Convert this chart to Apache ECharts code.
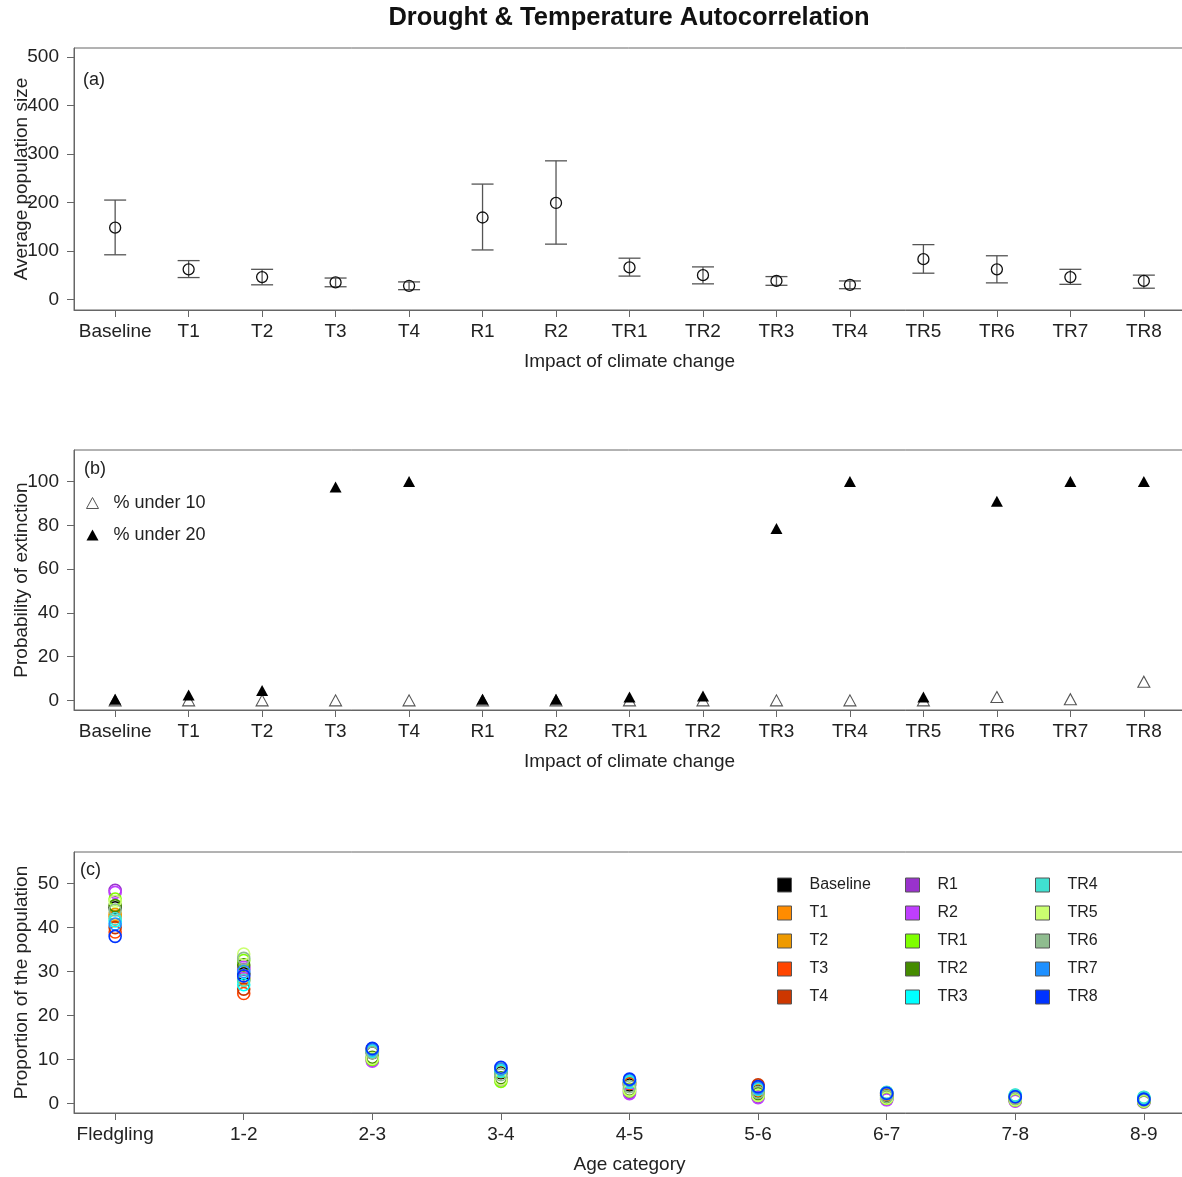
<!DOCTYPE html>
<html>
<head>
<meta charset="utf-8">
<title>Drought & Temperature Autocorrelation</title>
<script src="https://cdn.jsdelivr.net/npm/echarts@6/dist/echarts.min.js"></script>
<style>
  html, body { margin: 0; padding: 0; background: #fff; }
  #chart { width: 1182px; height: 1177px; }
</style>
</head>
<body>
<div id="chart"></div>
<script>
// scenarios on the x axis of panels (a) and (b)
var impactLabels = ['Baseline', 'T1', 'T2', 'T3', 'T4', 'R1', 'R2', 'TR1', 'TR2', 'TR3', 'TR4', 'TR5', 'TR6', 'TR7', 'TR8'];

// (a) average population size, mean and error bar ends
var popMean  = [148, 62, 46, 35, 28, 169, 199, 66, 50, 38, 30, 83, 62, 46, 38];
var popLower = [92, 45, 30, 26, 20, 102, 114, 48, 32, 29, 22, 54, 34, 31, 23];
var popUpper = [205, 80, 62, 44, 36, 238, 286, 85, 67, 47, 38, 113, 90, 62, 50];

// (b) probability of extinction (%)
var under10 = [0, 0, 0, 0, 0, 0, 0, 0, 0, 0, 0, 0, 1.5, 0.5, 8.5];
var under20 = [0.5, 2.5, 4.5, 97.5, 100, 0.5, 0.5, 1.5, 2, 78.5, 100, 1.5, 91, 100, 100];

// (c) proportion of the population per age category
var ageCategories = ['Fledgling', '1-2', '2-3', '3-4', '4-5', '5-6', '6-7', '7-8', '8-9'];
var propBaseline = [44.5, 29.5, 11.5, 7.0, 4.2, 2.8, 1.8, 1.2, 0.7];
var propT1  = [42.5, 28.5, 11.8, 7.2, 4.5, 3.0, 2.0, 1.3, 0.8];
var propT2  = [43.0, 28.0, 12.0, 7.4, 4.7, 3.2, 2.1, 1.4, 0.9];
var propT3  = [39.0, 25.0, 12.3, 7.5, 4.5, 3.8, 2.2, 1.5, 1.0];
var propT4  = [40.0, 26.0, 12.4, 7.8, 4.8, 4.2, 2.4, 1.6, 1.1];
var propR1  = [48.5, 30.5, 9.8, 5.5, 2.5, 1.5, 0.9, 0.6, 0.3];
var propR2  = [48.0, 31.0, 9.6, 5.3, 2.2, 1.3, 0.8, 0.5, 0.3];
var propTR1 = [46.5, 32.5, 10.0, 5.0, 2.8, 1.8, 1.1, 0.7, 0.4];
var propTR2 = [45.0, 31.5, 10.5, 5.8, 3.2, 2.2, 1.4, 0.9, 0.5];
var propTR3 = [41.5, 27.0, 11.8, 7.3, 4.8, 3.2, 2.4, 1.8, 1.3];
var propTR4 = [42.0, 28.0, 12.0, 7.5, 5.0, 3.3, 2.5, 1.9, 1.4];
var propTR5 = [46.0, 34.0, 10.2, 5.5, 3.0, 1.8, 1.2, 0.8, 0.5];
var propTR6 = [44.0, 33.0, 11.5, 6.5, 3.8, 2.5, 1.6, 1.1, 0.7];
var propTR7 = [40.8, 30.0, 12.2, 7.8, 5.3, 3.5, 2.2, 1.5, 1.0];
var propTR8 = [38.0, 29.0, 12.5, 8.2, 5.5, 3.8, 2.3, 1.5, 0.9];

var scenarioNames = impactLabels;
var scenarioColors = ['#000000', '#FF8C00', '#EE9A00', '#FF4500', '#CD3700', '#9932CC', '#BF3EFF', '#7FFF00',
  '#458B00', '#00FFFF', '#40E0D0', '#CAFF70', '#8FBC8F', '#1E90FF', '#0033FF'];
var ageProps = [propBaseline, propT1, propT2, propT3, propT4, propR1, propR2, propTR1, propTR2, propTR3,
  propTR4, propTR5, propTR6, propTR7, propTR8];

var FONT = '"Liberation Sans", Arial, sans-serif';
var TXT = '#222';
var LINE = '#666';

function range(n) {
  var a = [];
  for (var i = 1; i <= n; i++) a.push(i);
  return a;
}

function xAxisFor(gridIndex, labels, name) {
  return {
    type: 'value', gridIndex: gridIndex,
    min: 1 - 0.04 * (labels.length - 1), max: labels.length + 0.04 * (labels.length - 1),
    name: name, nameLocation: 'middle', nameGap: 42, nameMoveOverlap: false,
    nameTextStyle: { color: TXT, fontSize: 19, fontFamily: FONT },
    axisLine: { show: true, onZero: false, lineStyle: { color: LINE, width: 1 } },
    axisTick: { show: true, length: 7, customValues: range(labels.length), lineStyle: { color: LINE } },
    axisLabel: {
      customValues: range(labels.length), margin: 12, color: TXT, fontSize: 19, fontFamily: FONT,
      formatter: function (v) { return labels[Math.round(v) - 1]; }
    },
    splitLine: { show: false }
  };
}

function yAxisFor(gridIndex, min, max, ticks, name) {
  return {
    type: 'value', gridIndex: gridIndex, min: min, max: max,
    name: name, nameLocation: 'middle', nameGap: 43, nameMoveOverlap: false,
    nameTextStyle: { color: TXT, fontSize: 19, fontFamily: FONT },
    axisLine: { show: true, onZero: false, lineStyle: { color: LINE, width: 1 } },
    axisTick: { show: true, length: 7, customValues: ticks, lineStyle: { color: LINE } },
    axisLabel: { customValues: ticks, margin: 15, color: TXT, fontSize: 19, fontFamily: FONT },
    splitLine: { show: false }
  };
}

var chart = echarts.init(document.getElementById('chart'));

var series = [];

// (a) error bars
series.push({
  type: 'custom', xAxisIndex: 0, yAxisIndex: 0, silent: true,
  data: popMean.map(function (m, i) { return [i + 1, popLower[i], popUpper[i]]; }),
  renderItem: function (params, api) {
    var lo = api.coord([api.value(0), api.value(1)]);
    var hi = api.coord([api.value(0), api.value(2)]);
    var w = 11;
    var style = { stroke: '#555', lineWidth: 1.3 };
    return {
      type: 'group',
      children: [
        { type: 'line', shape: { x1: lo[0], y1: lo[1], x2: hi[0], y2: hi[1] }, style: style },
        { type: 'line', shape: { x1: lo[0] - w, y1: lo[1], x2: lo[0] + w, y2: lo[1] }, style: style },
        { type: 'line', shape: { x1: hi[0] - w, y1: hi[1], x2: hi[0] + w, y2: hi[1] }, style: style }
      ]
    };
  }
});
series.push({
  type: 'scatter', xAxisIndex: 0, yAxisIndex: 0, symbol: 'circle', symbolSize: 11,
  itemStyle: { color: 'rgba(0,0,0,0)', borderColor: '#111', borderWidth: 1.3, opacity: 1 },
  data: popMean.map(function (m, i) { return [i + 1, m]; })
});

// (b) extinction probabilities
series.push({
  name: '% under 10', type: 'scatter', xAxisIndex: 1, yAxisIndex: 1,
  symbol: 'triangle', symbolSize: [12, 11],
  itemStyle: { color: 'rgba(0,0,0,0)', borderColor: '#555', borderWidth: 1.1, opacity: 1 },
  data: under10.map(function (v, i) { return [i + 1, v]; })
});
series.push({
  name: '% under 20', type: 'scatter', xAxisIndex: 1, yAxisIndex: 1,
  symbol: 'triangle', symbolSize: [12, 11],
  itemStyle: { color: '#000', opacity: 1 },
  data: under20.map(function (v, i) { return [i + 1, v]; })
});

// (c) age structure
scenarioNames.forEach(function (name, s) {
  series.push({
    name: name, type: 'scatter', xAxisIndex: 2, yAxisIndex: 2,
    symbol: 'circle', symbolSize: 12,
    itemStyle: { color: 'rgba(0,0,0,0)', borderColor: scenarioColors[s], borderWidth: 1.6, opacity: 1 },
    data: ageProps[s].map(function (v, i) { return [i + 1, v]; })
  });
});

function legendCol(names, left) {
  return {
    orient: 'vertical', left: left, top: 877, padding: 0,
    itemWidth: 14, itemHeight: 14, itemGap: 12, icon: 'rect', selectedMode: false,
    textStyle: { color: TXT, fontSize: 16, fontFamily: FONT, padding: [0, 0, 0, 13] },
    data: names.map(function (n) {
      return { name: n, itemStyle: { color: scenarioColors[scenarioNames.indexOf(n)], borderColor: '#555', borderWidth: 1, opacity: 1 } };
    })
  };
}

var gridBase = { left: 74, right: -3, show: true, borderColor: LINE, borderWidth: 1, outerBoundsMode: 'none', containLabel: false };

var option = {
  backgroundColor: '#fff',
  animation: false,
  grid: [
    Object.assign({ top: 48, height: 262 }, gridBase),
    Object.assign({ top: 450, height: 260 }, gridBase),
    Object.assign({ top: 852, height: 261 }, gridBase)
  ],
  xAxis: [
    xAxisFor(0, impactLabels, 'Impact of climate change'),
    xAxisFor(1, impactLabels, 'Impact of climate change'),
    xAxisFor(2, ageCategories, 'Age category')
  ],
  yAxis: [
    yAxisFor(0, -22, 519, [0, 100, 200, 300, 400, 500], 'Average population size'),
    yAxisFor(1, -4.4, 114.4, [0, 20, 40, 60, 80, 100], 'Probability of extinction'),
    yAxisFor(2, -2.2, 57.2, [0, 10, 20, 30, 40, 50], 'Proportion of the population')
  ],
  legend: [
    {
      orient: 'vertical', left: 86, top: 494, padding: 0,
      itemWidth: 12, itemHeight: 11, itemGap: 14, icon: 'triangle', selectedMode: false,
      textStyle: { color: TXT, fontSize: 18, fontFamily: FONT, padding: [0, 0, 0, 10] },
      data: [
        { name: '% under 10', itemStyle: { color: '#fff', borderColor: '#555', borderWidth: 1 } },
        { name: '% under 20', itemStyle: { color: '#000', opacity: 1 } }
      ]
    },
    legendCol(['Baseline', 'T1', 'T2', 'T3', 'T4'], 777),
    legendCol(['R1', 'R2', 'TR1', 'TR2', 'TR3'], 905),
    legendCol(['TR4', 'TR5', 'TR6', 'TR7', 'TR8'], 1035)
  ],
  graphic: [
    { type: 'text', x: 629, y: 5, style: { text: 'Drought & Temperature Autocorrelation', fill: '#111', font: 'bold 25.5px ' + FONT, textAlign: 'center' } },
    { type: 'text', left: 83, top: 71, style: { text: '(a)', fill: TXT, font: '18px ' + FONT } },
    { type: 'text', left: 84, top: 460, style: { text: '(b)', fill: TXT, font: '18px ' + FONT } },
    { type: 'text', left: 80, top: 861, style: { text: '(c)', fill: TXT, font: '18px ' + FONT } }
  ],
  series: series
};

chart.setOption(option);
</script>
</body>
</html>
